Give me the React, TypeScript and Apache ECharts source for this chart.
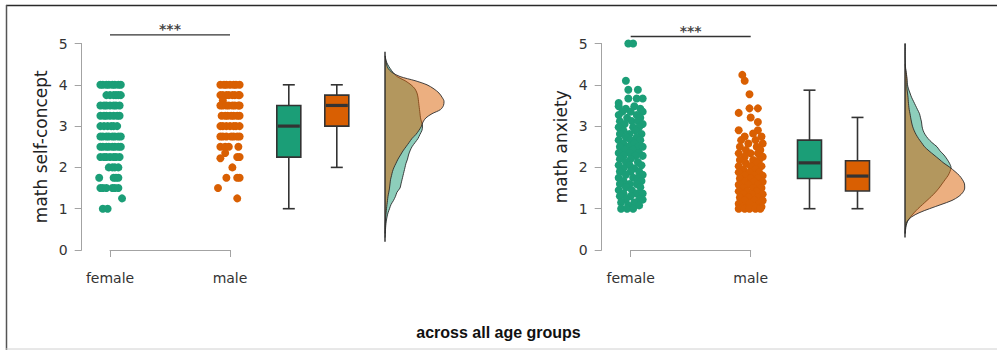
import React, { useEffect, useRef } from "react";
import * as echarts from "echarts";

// ---- data -------------------------------------------------------------

const GROUPS = ["female", "male"];
const GROUP_COLORS = ["#1b9e77", "#d95f02"];
const Y_LABELS = ["0", "1", "2", "3", "4", "5"];
const PANEL_NAMES = ["math self-concept", "math anxiety"];
const TITLE = "across all age groups";
const SIG_TEXT = "***";

// strip plots: [score, horizontal jitter of each observation at that score]
const SELF_CONCEPT_FEMALE: [number, number[]][] = [
  [4.0, [-0.08, -0.06, -0.03, -0.01, 0.02, 0.04, 0.07, 0.09]],
  [3.75, [-0.03, 0.0, 0.03, 0.05, 0.07, 0.09]],
  [3.5, [-0.08, -0.05, -0.03, 0.0, 0.03, 0.05, 0.08]],
  [3.25, [-0.08, -0.05, -0.03, 0.0, 0.03, 0.06, 0.08]],
  [3.0, [-0.08, -0.05, -0.02, 0.01, 0.03, 0.06]],
  [2.75, [-0.08, -0.06, -0.03, -0.01, 0.02, 0.04, 0.07, 0.09]],
  [2.5, [-0.08, -0.06, -0.03, -0.01, 0.02, 0.04, 0.07, 0.09]],
  [2.25, [-0.08, -0.05, -0.03, 0.0, 0.03, 0.05, 0.08]],
  [2.0, [-0.01, 0.02, 0.04, 0.07]],
  [1.75, [-0.09, 0.03, 0.05, 0.07]],
  [1.5, [-0.08, -0.06, -0.03, 0.02, 0.04, 0.07]],
  [1.25, [0.1]],
  [1.0, [-0.06, -0.02]],
];

const SELF_CONCEPT_MALE: [number, number[]][] = [
  [4.0, [-0.08, -0.05, -0.03, 0.0, 0.03, 0.05, 0.08]],
  [3.75, [-0.08, -0.06, -0.03, -0.01, 0.02, 0.04, 0.07, 0.08]],
  [3.62, [-0.06]],
  [3.5, [-0.08, -0.06, -0.03, -0.01, 0.02, 0.04, 0.07, 0.08]],
  [3.25, [-0.07, -0.04, -0.02, 0.01, 0.03, 0.06, 0.08]],
  [3.0, [-0.08, -0.06, -0.03, 0.0, 0.03, 0.05, 0.08]],
  [2.75, [-0.08, -0.06, -0.03, 0.01, 0.03, 0.06, 0.08]],
  [2.5, [-0.08, -0.04, -0.01, 0.07]],
  [2.35, [-0.04]],
  [2.25, [0.06, 0.08]],
  [2.22, [-0.08]],
  [2.0, [0.02]],
  [1.75, [-0.03, 0.06, 0.08]],
  [1.5, [-0.1]],
  [1.25, [0.06]],
];

const ANXIETY_FEMALE: [number, number[]][] = [
  [5.0, [-0.02, 0.02]],
  [4.1, [-0.04]],
  [3.88, [-0.02, 0.06]],
  [3.67, [-0.02, 0.05, 0.1]],
  [3.56, [-0.1]],
  [3.48, [-0.1, 0.03]],
  [3.42, [-0.04, 0.08]],
  [3.35, [-0.07, 0.0, 0.1]],
  [3.27, [-0.1, 0.05]],
  [3.2, [-0.03, 0.08]],
  [3.12, [-0.09, 0.01, 0.06]],
  [3.05, [-0.05, 0.1]],
  [2.97, [-0.1, 0.02, 0.07]],
  [2.89, [-0.06, 0.04]],
  [2.81, [-0.09, -0.01, 0.09]],
  [2.73, [-0.04, 0.05]],
  [2.66, [-0.1, 0.0, 0.08]],
  [2.58, [-0.06, 0.03]],
  [2.5, [-0.09, -0.02, 0.06, 0.1]],
  [2.43, [-0.05, 0.02]],
  [2.35, [-0.1, -0.01, 0.07]],
  [2.28, [-0.06, 0.04, 0.1]],
  [2.2, [-0.09, 0.0]],
  [2.13, [-0.04, 0.06]],
  [2.05, [-0.1, -0.01, 0.09]],
  [1.98, [-0.06, 0.03]],
  [1.9, [-0.09, 0.0, 0.07]],
  [1.82, [-0.04, 0.1]],
  [1.75, [-0.1, 0.02, 0.06]],
  [1.67, [-0.06, 0.09]],
  [1.6, [-0.09, -0.01, 0.05]],
  [1.52, [-0.04, 0.08]],
  [1.45, [-0.1, 0.01]],
  [1.37, [-0.06, 0.05, 0.1]],
  [1.3, [-0.09, 0.0]],
  [1.22, [-0.04, 0.07, 0.1]],
  [1.15, [-0.08, 0.03]],
  [1.08, [-0.02, 0.07]],
  [1.0, [-0.08, -0.03, 0.02]],
];

const ANXIETY_MALE: [number, number[]][] = [
  [4.24, [-0.07]],
  [4.1, [-0.05]],
  [3.77, [-0.01]],
  [3.43, [-0.01, 0.06]],
  [3.32, [-0.1]],
  [3.21, [0.0]],
  [3.1, [0.06]],
  [2.9, [-0.1, 0.06]],
  [2.82, [0.02]],
  [2.75, [-0.05, 0.09]],
  [2.66, [-0.08, 0.04]],
  [2.58, [-0.02, 0.1]],
  [2.5, [-0.09, 0.05]],
  [2.42, [-0.04, 0.08]],
  [2.34, [-0.1, 0.0, 0.06]],
  [2.26, [-0.05, 0.1]],
  [2.18, [-0.09, 0.02, 0.07]],
  [2.1, [-0.04, 0.05]],
  [2.03, [-0.1, 0.0, 0.09]],
  [1.95, [-0.06, 0.04]],
  [1.88, [-0.1, -0.01, 0.07]],
  [1.8, [-0.05, 0.03, 0.1]],
  [1.73, [-0.09, 0.0, 0.06]],
  [1.65, [-0.05, 0.03, 0.1]],
  [1.58, [-0.1, -0.02, 0.06]],
  [1.5, [-0.06, 0.02, 0.09]],
  [1.42, [-0.1, -0.03, 0.05]],
  [1.35, [-0.06, 0.01, 0.1]],
  [1.27, [-0.09, -0.02, 0.06]],
  [1.2, [-0.05, 0.03, 0.1]],
  [1.12, [-0.1, -0.01, 0.07]],
  [1.05, [-0.06, 0.03, 0.09]],
  [1.0, [-0.1, -0.05, -0.01, 0.04, 0.08]],
];

// box plots: [lower whisker, q1, median, q3, upper whisker]
const SELF_CONCEPT_BOX_FEMALE = [1, 2.25, 3, 3.5, 4];
const SELF_CONCEPT_BOX_MALE = [2, 3, 3.5, 3.75, 4];
const ANXIETY_BOX_FEMALE = [1, 1.73, 2.11, 2.66, 3.87];
const ANXIETY_BOX_MALE = [1, 1.43, 1.79, 2.16, 3.21];

// significance bar height (score units)
const SIG_LEVEL = [5.21, 5.17];

// kernel density estimates evaluated at scores 0.0, 0.1, ..., 5.0
const DENSITY_SCORES = [
  "0.0", "0.1", "0.2", "0.3", "0.4", "0.5", "0.6", "0.7", "0.8", "0.9",
  "1.0", "1.1", "1.2", "1.3", "1.4", "1.5", "1.6", "1.7", "1.8", "1.9",
  "2.0", "2.1", "2.2", "2.3", "2.4", "2.5", "2.6", "2.7", "2.8", "2.9",
  "3.0", "3.1", "3.2", "3.3", "3.4", "3.5", "3.6", "3.7", "3.8", "3.9",
  "4.0", "4.1", "4.2", "4.3", "4.4", "4.5", "4.6", "4.7", "4.8", "4.9",
  "5.0",
];

const SELF_CONCEPT_DENS_FEMALE = [
  null, null, null, 0.001, 0.003, 0.005, 0.008, 0.013, 0.02, 0.03,
  0.045, 0.06, 0.085, 0.105, 0.12, 0.15, 0.16, 0.17, 0.18, 0.19,
  0.2, 0.21, 0.225, 0.235, 0.25, 0.27, 0.3, 0.33, 0.35, 0.37,
  0.375, 0.365, 0.355, 0.35, 0.345, 0.34, 0.335, 0.33, 0.32, 0.3,
  0.26, 0.2, 0.12, 0.08, 0.05, 0.025, 0.008, 0.002, null, null,
  null,
];

const SELF_CONCEPT_DENS_MALE = [
  null, null, null, null, 0.0005, 0.001, 0.002, 0.004, 0.007, 0.011,
  0.015, 0.02, 0.025, 0.03, 0.038, 0.045, 0.05, 0.055, 0.065, 0.075,
  0.09, 0.11, 0.13, 0.155, 0.18, 0.21, 0.24, 0.27, 0.31, 0.34,
  0.365, 0.38, 0.41, 0.47, 0.555, 0.585, 0.59, 0.57, 0.54, 0.49,
  0.42, 0.3, 0.15, 0.07, 0.03, 0.015, 0.008, 0.003, null, null,
  null,
];

const ANXIETY_DENS_FEMALE = [
  null, null, null, null, 0.002, 0.006, 0.013, 0.027, 0.055, 0.09,
  0.13, 0.175, 0.22, 0.265, 0.305, 0.34, 0.37, 0.4, 0.43, 0.45,
  0.46, 0.445, 0.42, 0.39, 0.35, 0.32, 0.27, 0.23, 0.2, 0.18,
  0.17, 0.165, 0.155, 0.145, 0.125, 0.105, 0.085, 0.065, 0.05, 0.035,
  0.025, 0.02, 0.015, 0.01, 0.006, 0.004, 0.003, 0.002, 0.002, 0.003,
  0.002,
];

const ANXIETY_DENS_MALE = [
  null, null, null, null, 0.001, 0.002, 0.008, 0.023, 0.065, 0.14,
  0.245, 0.36, 0.47, 0.54, 0.58, 0.597, 0.595, 0.575, 0.545, 0.5,
  0.45, 0.39, 0.34, 0.29, 0.24, 0.195, 0.165, 0.135, 0.11, 0.09,
  0.075, 0.065, 0.057, 0.05, 0.042, 0.037, 0.033, 0.03, 0.025, 0.02,
  0.018, 0.02, 0.018, 0.012, 0.005, 0.002, null, null, null, null,
  null,
];

// extent of the density baseline, in score units [bottom, top]
const DENSITY_SPAN = [
  [0.2, 4.8],
  [0.3, 5.0],
];

// ---- layout -----------------------------------------------------------

const FONT = "DejaVu Sans";
const INK = "#333";
const AXIS_GREY = "#a3a3a3";
const PLOT_TOP = 43.5;
const PLOT_HEIGHT = 206.5;
const UNIT_PX = 120; // horizontal pixels per group step
const POS = { female: 1, male: 2, boxF: 2.49, boxM: 2.89 };
const BOX_WIDTH = 0.2;
const CAP_WIDTH = 0.1;

const PANELS = [
  { axisX: 81.7, groupX: 110, violinX: 385 },
  { axisX: 601.7, groupX: 630.7, violinX: 905 },
];

const toPoints = (rows: [number, number[]][], center: number) =>
  rows.flatMap(([score, offs]) => offs.map((o) => [center + o, score]));

const boxRenderer = (color: string) => (_params: any, api: any) => {
  const x = api.value(0);
  const lo = api.coord([x, api.value(1)]);
  const q1 = api.coord([x, api.value(2)]);
  const md = api.coord([x, api.value(3)]);
  const q3 = api.coord([x, api.value(4)]);
  const hi = api.coord([x, api.value(5)]);
  const bw = api.size([BOX_WIDTH, 0])[0];
  const cw = api.size([CAP_WIDTH, 0])[0];
  const stroke = { stroke: INK, lineWidth: 1.6 };
  return {
    type: "group",
    children: [
      { type: "line", shape: { x1: lo[0], y1: lo[1], x2: q1[0], y2: q1[1] }, style: stroke },
      { type: "line", shape: { x1: q3[0], y1: q3[1], x2: hi[0], y2: hi[1] }, style: stroke },
      { type: "line", shape: { x1: lo[0] - cw / 2, y1: lo[1], x2: lo[0] + cw / 2, y2: lo[1] }, style: stroke },
      { type: "line", shape: { x1: hi[0] - cw / 2, y1: hi[1], x2: hi[0] + cw / 2, y2: hi[1] }, style: stroke },
      {
        type: "rect",
        shape: { x: q3[0] - bw / 2, y: q3[1], width: bw, height: q1[1] - q3[1] },
        style: { fill: color, stroke: INK, lineWidth: 1.6 },
      },
      {
        type: "line",
        shape: { x1: md[0] - bw / 2 + 1, y1: md[1], x2: md[0] + bw / 2 - 1, y2: md[1] },
        style: { stroke: INK, lineWidth: 3.2 },
      },
    ],
  };
};

function buildOption() {
  const grids: any[] = [];
  const xAxes: any[] = [];
  const yAxes: any[] = [];
  const series: any[] = [];

  const strips = [
    [SELF_CONCEPT_FEMALE, SELF_CONCEPT_MALE],
    [ANXIETY_FEMALE, ANXIETY_MALE],
  ];
  const boxes = [
    [SELF_CONCEPT_BOX_FEMALE, SELF_CONCEPT_BOX_MALE],
    [ANXIETY_BOX_FEMALE, ANXIETY_BOX_MALE],
  ];
  const dens = [
    [SELF_CONCEPT_DENS_FEMALE, SELF_CONCEPT_DENS_MALE],
    [ANXIETY_DENS_FEMALE, ANXIETY_DENS_MALE],
  ];

  PANELS.forEach((p, k) => {
    const g0 = grids.length;
    const xMin = POS.female - (p.groupX - p.axisX) / UNIT_PX;
    // main plotting area
    grids.push({ left: p.axisX, top: PLOT_TOP, width: 300, height: PLOT_HEIGHT, outerBoundsMode: "none" });
    // bracket axis under the two groups
    grids.push({ left: p.groupX, top: PLOT_TOP, width: UNIT_PX, height: PLOT_HEIGHT, outerBoundsMode: "none" });
    // half-violin densities
    grids.push({ left: p.violinX, top: PLOT_TOP, width: 100, height: PLOT_HEIGHT, outerBoundsMode: "none" });

    xAxes.push({ gridIndex: g0, type: "value", min: xMin, max: xMin + 300 / UNIT_PX, show: false });
    xAxes.push({
      gridIndex: g0 + 1,
      type: "value",
      min: 0,
      max: 1,
      interval: 1,
      offset: 9.5,
      axisLine: { show: true, lineStyle: { color: AXIS_GREY, width: 1 } },
      axisTick: { show: true, length: 7, lineStyle: { color: AXIS_GREY, width: 1 } },
      splitLine: { show: false },
      axisLabel: {
        margin: 11,
        fontSize: 14,
        fontFamily: FONT,
        color: INK,
        formatter: (v: number) => GROUPS[v] ?? "",
      },
    });
    xAxes.push({ gridIndex: g0 + 2, type: "value", min: 0, max: 1, show: false });

    yAxes.push({
      gridIndex: g0,
      type: "value",
      min: 0,
      max: 5,
      interval: 1,
      name: PANEL_NAMES[k],
      nameLocation: "middle",
      nameRotate: 90,
      nameGap: 32,
      nameTextStyle: { fontSize: 17, fontFamily: FONT, color: "#222" },
      axisLine: { show: true, lineStyle: { color: AXIS_GREY, width: 1 } },
      axisTick: { show: true, length: 7, lineStyle: { color: AXIS_GREY, width: 1 } },
      splitLine: { show: false },
      axisLabel: {
        margin: 14,
        fontSize: 14,
        fontFamily: FONT,
        color: INK,
        formatter: (v: number) => Y_LABELS[v] ?? "",
      },
    });
    yAxes.push({ gridIndex: g0 + 1, type: "value", min: 0, max: 5, show: false });
    yAxes.push({
      gridIndex: g0 + 2,
      type: "category",
      data: DENSITY_SCORES,
      boundaryGap: false,
      show: false,
    });

    const xi = g0;
    // jittered raw data
    strips[k].forEach((rows, gi) => {
      series.push({
        type: "scatter",
        xAxisIndex: xi,
        yAxisIndex: xi,
        data: toPoints(rows, gi === 0 ? POS.female : POS.male),
        symbolSize: 8,
        itemStyle: { color: GROUP_COLORS[gi], opacity: 1 },
        clip: false,
        z: 2,
      });
    });
    // box plots
    boxes[k].forEach((b, gi) => {
      series.push({
        type: "custom",
        xAxisIndex: xi,
        yAxisIndex: xi,
        data: [[gi === 0 ? POS.boxF : POS.boxM, ...b]],
        encode: { x: 0, y: [1, 2, 3, 4, 5] },
        renderItem: boxRenderer(GROUP_COLORS[gi]),
        clip: false,
        z: 3,
      });
    });
    // significance bracket
    series.push({
      type: "line",
      xAxisIndex: xi,
      yAxisIndex: xi,
      data: [
        [POS.female, SIG_LEVEL[k]],
        [POS.male, SIG_LEVEL[k]],
      ],
      symbol: "none",
      lineStyle: { color: "#333", width: 1.3 },
      clip: false,
      silent: true,
      z: 4,
    });
    series.push({
      type: "scatter",
      xAxisIndex: xi,
      yAxisIndex: xi,
      data: [[(POS.female + POS.male) / 2, SIG_LEVEL[k]]],
      symbolSize: 1,
      itemStyle: { color: "transparent" },
      label: {
        show: true,
        position: "top",
        distance: -2,
        formatter: SIG_TEXT,
        fontSize: 14,
        fontWeight: "bold",
        fontFamily: FONT,
        color: "#111",
      },
      clip: false,
      silent: true,
      z: 4,
    });
    // densities: female underneath, male on top
    dens[k].forEach((d, gi) => {
      series.push({
        type: "line",
        xAxisIndex: g0 + 2,
        yAxisIndex: g0 + 2,
        data: d,
        smooth: 0.3,
        symbol: "none",
        lineStyle: { color: "#2b2b2b", width: 0.9 },
        areaStyle: { color: GROUP_COLORS[gi], opacity: 0.5 },
        clip: false,
        silent: true,
        z: 2 + gi,
      });
    });
    // density baseline
    const [b0, b1] = DENSITY_SPAN[k];
    series.push({
      type: "line",
      xAxisIndex: g0 + 2,
      yAxisIndex: g0 + 2,
      data: DENSITY_SCORES.map((s) => (+s >= b0 - 1e-9 && +s <= b1 + 1e-9 ? 0 : null)),
      symbol: "none",
      lineStyle: { color: "#2b2b2b", width: 1.4 },
      clip: false,
      silent: true,
      z: 5,
    });
  });

  return {
    animation: false,
    backgroundColor: "#ffffff",
    title: {
      text: TITLE,
      left: "center",
      top: 319,
      textStyle: { fontSize: 16, fontWeight: "bold", fontFamily: "Liberation Sans", color: "#111" },
    },
    grid: grids,
    xAxis: xAxes,
    yAxis: yAxes,
    series,
    graphic: [
      { type: "line", shape: { x1: 6, y1: 5.5, x2: 997, y2: 5.5 }, style: { stroke: "#2a2a2a", lineWidth: 1.5 } },
      { type: "line", shape: { x1: 6.5, y1: 5, x2: 6.5, y2: 350 }, style: { stroke: "#555", lineWidth: 1.5 } },
      { type: "line", shape: { x1: 6, y1: 349, x2: 997, y2: 349 }, style: { stroke: "#d0d0d0", lineWidth: 1 } },
    ],
  };
}

export default function App() {
  const ref = useRef<HTMLDivElement>(null);
  useEffect(() => {
    if (!ref.current) return;
    const chart = echarts.init(ref.current, undefined, { renderer: "svg" });
    chart.setOption(buildOption() as any);
    return () => chart.dispose();
  }, []);
  return (
    <div
      ref={ref}
      style={{ position: "absolute", left: 0, top: 0, width: 997, height: 350 }}
    />
  );
}
